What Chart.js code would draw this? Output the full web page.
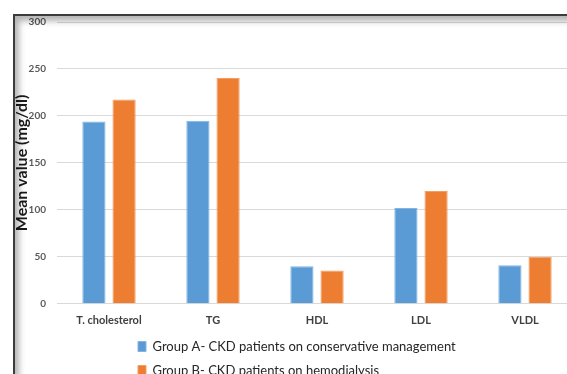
<!DOCTYPE html>
<html>
<head>
<meta charset="utf-8">
<script src="https://cdn.jsdelivr.net/npm/chart.js@4"></script>
<style>
  html, body { margin: 0; padding: 0; background: #fff; overflow: hidden; }
  #wrap { position: absolute; left: 0; top: 0; width: 578px; height: 395px; }
  #frame {
    position: absolute; left: 13px; top: 14px; width: 600px; height: 420px;
    border-top: 2px solid #3c3c3c; border-left: 2px solid #3c3c3c;
    box-shadow: inset 4px 5px 6px rgba(0,0,0,0.30);
    pointer-events: none;
  }
</style>
</head>
<body>
<div id="wrap"><canvas id="c"></canvas></div>
<div id="frame"></div>
<script>
const categories = ['T. cholesterol', 'TG', 'HDL', 'LDL', 'VLDL'];
const groupA = [194, 195, 40, 102, 41];
const groupB = [217.5, 240.5, 35.5, 120, 50];
const seriesNames = [
  'Group A- CKD patients on conservative management',
  'Group B- CKD patients on hemodialysis'
];
const yTicks = [0, 50, 100, 150, 200, 250, 300];

// Moves the bottom legend so its rows start under the middle of the plot
const legendOffset = {
  id: 'legendOffset',
  afterLayout(chart) {
    const lg = chart.legend;
    if (!lg) return;
    const dx = 70, dy = -8;
    lg.left += dx;
    lg.right += dx;
    lg.top += dy;
    lg.bottom += dy;
  }
};

new Chart(document.getElementById('c'), {
  type: 'bar',
  data: {
    labels: categories,
    datasets: [
      { label: seriesNames[0], data: groupA, backgroundColor: '#5b9bd5', borderColor: '#82b4e2', borderWidth: 1 },
      { label: seriesNames[1], data: groupB, backgroundColor: '#ed7d31', borderColor: '#f39d64', borderWidth: 1 }
    ]
  },
  options: {
    responsive: true,
    maintainAspectRatio: false,
    animation: false,
    datasets: { bar: { categoryPercentage: 0.58, barPercentage: 0.77 } },
    layout: { padding: { top: 22, right: 1, left: 0, bottom: 0 } },
    plugins: {
      tooltip: { enabled: false },
      legend: {
        position: 'bottom',
        align: 'start',
        fullSize: false,
        labels: {
          boxWidth: 8,
          boxHeight: 10,
          padding: 11,
          color: '#262626',
          font: { family: 'Lato', size: 13 }
        }
      }
    },
    scales: {
      x: {
        grid: { display: false, drawTicks: false },
        border: { display: false },
        ticks: { color: '#404040', padding: 10, font: { family: 'Lato', size: 11, weight: 'bold' } }
      },
      y: {
        min: 0, max: 300,
        afterFit(scale) { scale.width = 57; },
        afterBuildTicks(scale) { scale.ticks = yTicks.map(v => ({ value: v })); },
        grid: { color: '#d9d9d9', lineWidth: 1, drawTicks: false },
        border: { display: false },
        ticks: { color: '#595959', padding: 11, font: { family: 'Lato', size: 10, weight: 'bold' } },
        title: {
          display: true,
          text: 'Mean value (mg/dl)',
          color: '#1a1a1a',
          padding: { top: 12, bottom: 0 },
          font: { family: 'Lato', size: 16, weight: 'bold' }
        }
      }
    }
  },
  plugins: [legendOffset]
});
</script>
</body>
</html>
